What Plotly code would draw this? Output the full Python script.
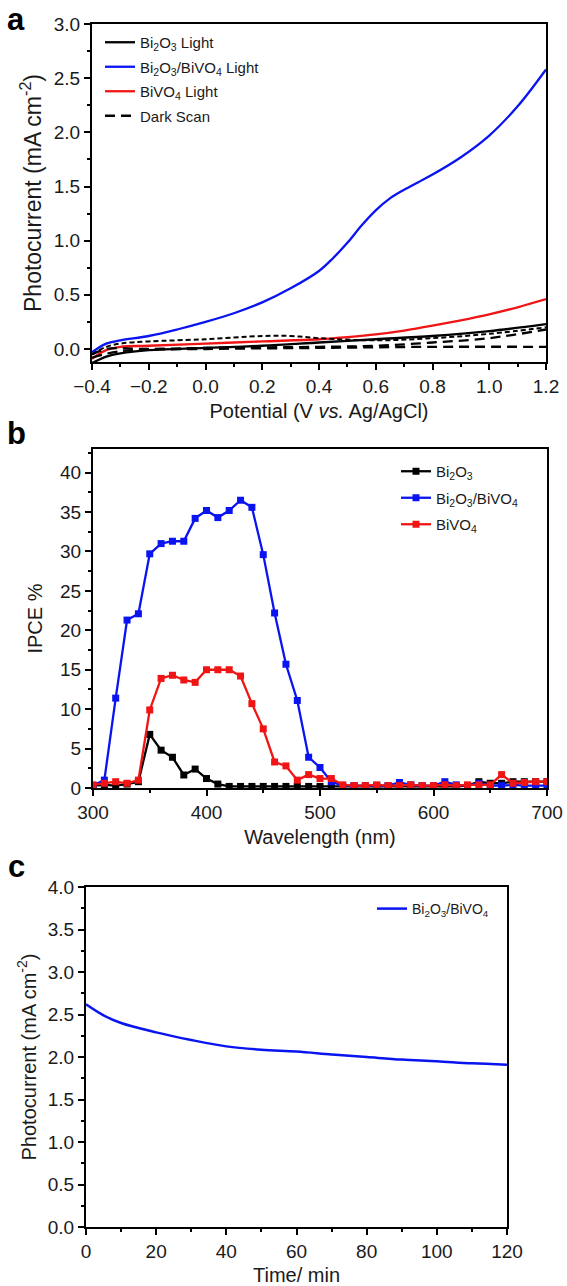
import plotly.graph_objects as go

# ---------------- Panel a: photocurrent vs potential ----------------
pot_blue = [-0.4, -0.35, -0.3, -0.2, -0.1, 0.0, 0.1, 0.2, 0.3, 0.4, 0.45, 0.5, 0.55, 0.6, 0.65, 0.7, 0.75, 0.8, 0.9, 1.0, 1.1, 1.2]
cur_blue = [-0.03, 0.05, 0.08, 0.12, 0.18, 0.25, 0.33, 0.43, 0.56, 0.72, 0.84, 0.98, 1.14, 1.28, 1.39, 1.47, 1.54, 1.61, 1.77, 1.97, 2.24, 2.58]

pot_red = [-0.4, -0.35, -0.3, -0.2, 0.0, 0.2, 0.4, 0.5, 0.6, 0.7, 0.8, 0.9, 1.0, 1.1, 1.2]
cur_red = [-0.09, -0.01, 0.02, 0.03, 0.05, 0.07, 0.09, 0.11, 0.135, 0.17, 0.215, 0.265, 0.32, 0.385, 0.46]

pot_black = [-0.4, -0.35, -0.3, -0.2, 0.0, 0.2, 0.4, 0.6, 0.8, 1.0, 1.2]
cur_black = [-0.13, -0.07, -0.04, -0.01, 0.01, 0.03, 0.06, 0.09, 0.12, 0.165, 0.23]

pot_dark1 = [-0.4, -0.35, -0.3, -0.2, 0.0, 0.2, 0.3, 0.4, 0.6, 0.8, 1.0, 1.2]
cur_dark1 = [-0.05, 0.02, 0.05, 0.07, 0.09, 0.12, 0.12, 0.10, 0.08, 0.10, 0.14, 0.20]

pot_dark2 = [-0.4, -0.35, -0.2, 0.0, 0.4, 0.6, 0.8, 1.0, 1.2]
cur_dark2 = [-0.05, 0.0, 0.0, 0.01, 0.02, 0.03, 0.06, 0.10, 0.18]

pot_dark3 = [-0.4, -0.3, 0.0, 0.4, 0.8, 1.2]
cur_dark3 = [-0.08, -0.02, 0.0, 0.01, 0.02, 0.02]

# ---------------- Panel b: IPCE ----------------
wavelength = list(range(300, 701, 10))
ipce_bi2o3 = [0.3, 0.4, 0.3, 0.5, 0.8, 6.8, 4.8, 3.9, 1.65, 2.4, 1.2, 0.5, 0.2, 0.2, 0.2, 0.2, 0.2, 0.2, 0.2, 0.2,
              0.2, 0.2, 0.2, 0.2, 0.2, 0.2, 0.2, 0.2, 0.2, 0.2, 0.2, 0.2, 0.2, 0.3, 0.8, 0.6, 0.6, 0.8, 0.8, 0.8, 0.8]
ipce_comp = [0.3, 1.0, 11.4, 21.3, 22.1, 29.7, 31.0, 31.3, 31.3, 34.2, 35.2, 34.3, 35.2, 36.5, 35.6, 29.6, 22.2,
             15.7, 11.1, 3.9, 2.6, 0.8, 0.3, 0.3, 0.3, 0.3, 0.3, 0.7, 0.4, 0.3, 0.3, 0.8, 0.4, 0.3, 0.6, 0.3,
             0.3, 0.4, 0.3, 0.3, 0.3]
ipce_bivo4 = [0.4, 0.6, 0.8, 0.6, 1.0, 9.9, 13.9, 14.3, 13.7, 13.4, 15.0, 15.0, 15.0, 14.2, 10.7, 7.5, 3.3, 2.8,
              1.0, 1.7, 1.2, 1.2, 0.4, 0.3, 0.3, 0.4, 0.3, 0.3, 0.4, 0.3, 0.3, 0.4, 0.3, 0.4, 0.4, 0.4, 1.7,
              0.6, 0.7, 0.8, 0.8]

# ---------------- Panel c: stability ----------------
time_min = [0, 5, 10, 20, 30, 40, 50, 60, 70, 80, 90, 100, 110, 120]
cur_time = [2.62, 2.49, 2.40, 2.29, 2.20, 2.125, 2.085, 2.065, 2.03, 2.00, 1.97, 1.95, 1.925, 1.91]

FONT = "Liberation Sans, Arial, sans-serif"
TXT = "#1a1a1a"
W, H = 567, 1286

fig = go.Figure()

# panel a traces
fig.add_trace(go.Scatter(x=pot_black, y=cur_black, mode="lines", line=dict(color="black", width=2.3, shape="spline"),
                         name="Bi<sub>2</sub>O<sub>3</sub> Light", legend="legend", legendgroup="a1",
                         xaxis="x", yaxis="y"))
fig.add_trace(go.Scatter(x=pot_blue, y=cur_blue, mode="lines", line=dict(color="#0a14f0", width=2.3, shape="spline"),
                         name="Bi<sub>2</sub>O<sub>3</sub>/BiVO<sub>4</sub> Light", legend="legend", legendgroup="a2",
                         xaxis="x", yaxis="y"))
fig.add_trace(go.Scatter(x=pot_red, y=cur_red, mode="lines", line=dict(color="#f01414", width=2.3, shape="spline"),
                         name="BiVO<sub>4</sub> Light", legend="legend", legendgroup="a3", xaxis="x", yaxis="y"))
fig.add_trace(go.Scatter(x=pot_dark2, y=cur_dark2, mode="lines",
                         line=dict(color="black", width=2.3, dash="10px,6px", shape="spline"),
                         name="Dark Scan", legend="legend", legendgroup="a4", xaxis="x", yaxis="y"))
fig.add_trace(go.Scatter(x=pot_dark3, y=cur_dark3, mode="lines",
                         line=dict(color="black", width=2.3, dash="10px,6px", shape="spline"),
                         name="Dark Scan", showlegend=False, legendgroup="a4", xaxis="x", yaxis="y"))
fig.add_trace(go.Scatter(x=pot_dark1, y=cur_dark1, mode="lines",
                         line=dict(color="black", width=2.0, dash="5px,3px", shape="spline"),
                         name="Dark Scan", showlegend=False, legendgroup="a4", xaxis="x", yaxis="y"))

# panel b traces
for i, (yv, col, nm) in enumerate([(ipce_bi2o3, "black", "Bi<sub>2</sub>O<sub>3</sub>"),
                                   (ipce_comp, "#0a14f0", "Bi<sub>2</sub>O<sub>3</sub>/BiVO<sub>4</sub>"),
                                   (ipce_bivo4, "#f01414", "BiVO<sub>4</sub>")]):
    fig.add_trace(go.Scatter(x=wavelength, y=yv, mode="lines+markers",
                             line=dict(color=col, width=2.3),
                             marker=dict(symbol="square", size=7, color=col),
                             name=nm, legend="legend2", legendgroup=f"b{i}", xaxis="x2", yaxis="y2"))

# panel c trace
fig.add_trace(go.Scatter(x=time_min, y=cur_time, mode="lines", line=dict(color="#0a14f0", width=2.5, shape="spline"),
                         name="Bi<sub>2</sub>O<sub>3</sub>/BiVO<sub>4</sub>", legend="legend3", xaxis="x3", yaxis="y3"))


def ax(**kw):
    base = dict(showline=True, linecolor="black", linewidth=2, mirror=True, ticks="outside", ticklen=6,
                tickwidth=1.5, tickcolor="black", showgrid=False, zeroline=False, automargin=False,
                tickfont=dict(family=FONT, size=19, color=TXT),
                title_font=dict(family=FONT, size=20, color=TXT))
    base.update(kw)
    return base


def px_x(p):
    return p / W


def px_y(p):
    return 1 - p / H


fig.update_layout(
    width=W, height=H, margin=dict(l=0, r=0, t=0, b=0, autoexpand=False),
    plot_bgcolor="white", paper_bgcolor="white",
    font=dict(family=FONT, color=TXT),
    xaxis=ax(domain=[px_x(92), px_x(546)], anchor="y", range=[-0.4, 1.2], dtick=0.2, tick0=-0.4, tickformat=".1f",
             minor=dict(ticks="outside", ticklen=3, dtick=0.1, tickcolor="black"),
             title=dict(text="Potential (V <i>vs.</i> Ag/AgCl)", standoff=8)),
    yaxis=ax(domain=[px_y(362), px_y(24)], anchor="x", range=[-0.12, 3.0], dtick=0.5, tick0=0, tickformat=".1f",
             minor=dict(ticks="outside", ticklen=3, dtick=0.25, tick0=0, tickcolor="black"),
             title=dict(text="Photocurrent (mA cm<sup>-2</sup>)", standoff=6, font=dict(size=23))),
    xaxis2=ax(domain=[px_x(93), px_x(547)], anchor="y2", range=[300, 700], dtick=100,
              minor=dict(ticks="outside", ticklen=3, dtick=50, tickcolor="black"),
              title=dict(text="Wavelength (nm)", standoff=8)),
    yaxis2=ax(domain=[px_y(788), px_y(449)], anchor="x2", range=[0, 43], dtick=5,
              minor=dict(ticks="outside", ticklen=3, dtick=2.5, tickcolor="black"),
              title=dict(text="IPCE %", standoff=12)),
    xaxis3=ax(domain=[px_x(86), px_x(507)], anchor="y3", range=[0, 120], dtick=20,
              minor=dict(ticks="outside", ticklen=3, dtick=10, tickcolor="black"),
              title=dict(text="Time/ min", standoff=8)),
    yaxis3=ax(domain=[px_y(1227), px_y(887)], anchor="x3", range=[0, 4.0], dtick=0.5, tickformat=".1f",
              minor=dict(ticks="outside", ticklen=3, dtick=0.25, tickcolor="black"),
              title=dict(text="Photocurrent (mA cm<sup>-2</sup>)", standoff=6)),
    legend=dict(x=px_x(100), y=px_y(26), xanchor="left", yanchor="top", bgcolor="rgba(0,0,0,0)",
                font=dict(family=FONT, size=15, color=TXT), tracegroupgap=2, itemwidth=30),
    legend2=dict(x=px_x(396), y=px_y(455), xanchor="left", yanchor="top", bgcolor="rgba(0,0,0,0)",
                 font=dict(family=FONT, size=15, color=TXT), tracegroupgap=4, itemwidth=30),
    legend3=dict(x=px_x(372), y=px_y(893), xanchor="left", yanchor="top", bgcolor="rgba(0,0,0,0)",
                 font=dict(family=FONT, size=14, color=TXT), itemwidth=30),
    annotations=[
        dict(text="<b>a</b>", x=px_x(16), y=1.0, xref="paper", yref="paper", showarrow=False,
             xanchor="center", yanchor="top", font=dict(family=FONT, size=31, color="black")),
        dict(text="<b>b</b>", x=px_x(16), y=px_y(433), xref="paper", yref="paper", showarrow=False,
             xanchor="center", yanchor="middle", font=dict(family=FONT, size=31, color="black")),
        dict(text="<b>c</b>", x=px_x(16), y=px_y(866), xref="paper", yref="paper", showarrow=False,
             xanchor="center", yanchor="middle", font=dict(family=FONT, size=31, color="black")),
    ],
)

fig.write_html("out.html", config={"displayModeBar": False},
               post_script="document.body.style.margin='0px';")
